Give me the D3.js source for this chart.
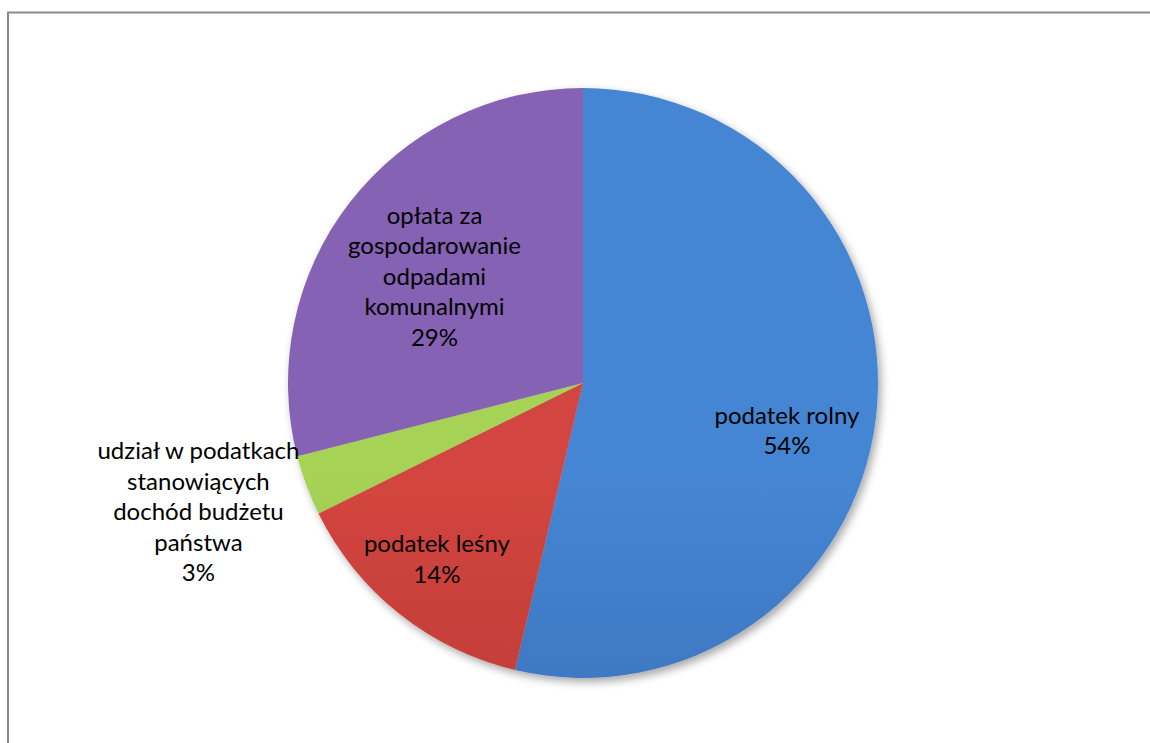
<!DOCTYPE html>
<html>
<head>
<meta charset="utf-8">
<script src="https://cdn.jsdelivr.net/npm/d3@7"></script>
<style>
html, body { margin: 0; padding: 0; background: #ffffff; }
svg { display: block; }
</style>
</head>
<body>
<svg id="chart" width="1150" height="743"></svg>
<script>
// ---- data ----
const categories = [
  "podatek rolny",
  "podatek leśny",
  "udział w podatkach stanowiących dochód budżetu państwa",
  "opłata za gospodarowanie odpadami komunalnymi"
];
const values = [53.7, 14.0, 3.3, 29.0];
const labelLines = [
  ["podatek rolny"],
  ["podatek leśny"],
  ["udział w podatkach", "stanowiących", "dochód budżetu", "państwa"],
  ["opłata za", "gospodarowanie", "odpadami", "komunalnymi"]
];
const topColors = ["#4586d4", "#d3453f", "#a6d255", "#8562b4"];
const bottomColors = ["#3461a2", "#a8332f", "#83a93b", "#5f4585"];

// ---- layout ----
const W = 1150, H = 743;
const cx = 583, cy = 383, R = 295;
// label placement (radius as fraction of R, angle shift in degrees)
const labelRadius = [0.71, 0.775, 1.375, 0.62];
const labelShift = [6.5, 1.2, 1.8, -2.1];
const fontSize = 24, lineH = 30.5;

const svg = d3.select("#chart");
const defs = svg.append("defs");

// frame
svg.append("line").attr("x1", 7).attr("x2", W).attr("y1", 12.5).attr("y2", 12.5)
  .attr("stroke", "#8a8a8a").attr("stroke-width", 2);
svg.append("line").attr("x1", 8).attr("x2", 8).attr("y1", 12).attr("y2", H)
  .attr("stroke", "#8a8a8a").attr("stroke-width", 2);

// shadow filter
const f = defs.append("filter").attr("id", "shadow")
  .attr("x", "-10%").attr("y", "-10%").attr("width", "125%").attr("height", "125%");
f.append("feDropShadow").attr("dx", 3).attr("dy", 4).attr("stdDeviation", 4)
  .attr("flood-color", "#000").attr("flood-opacity", 0.35);

// gradients
values.forEach((v, i) => {
  const g = defs.append("linearGradient").attr("id", "grad" + i)
    .attr("gradientUnits", "userSpaceOnUse")
    .attr("x1", 0).attr("x2", 0).attr("y1", cy - R).attr("y2", cy + R);
  g.append("stop").attr("offset", "0%").attr("stop-color", topColors[i]);
  g.append("stop").attr("offset", "100%").attr("stop-color", bottomColors[i]);
  const b = defs.append("linearGradient").attr("id", "bevel" + i)
    .attr("gradientUnits", "userSpaceOnUse")
    .attr("x1", 0).attr("x2", 0).attr("y1", cy - R).attr("y2", cy + R);
  b.append("stop").attr("offset", "0%").attr("stop-color", "#ffffff").attr("stop-opacity", 0.5);
  b.append("stop").attr("offset", "50%").attr("stop-color", "#ffffff").attr("stop-opacity", 0.2);
  b.append("stop").attr("offset", "100%").attr("stop-color", "#000000").attr("stop-opacity", 0.4);
});

const pie = d3.pie().sort(null).value(d => d)(values);
const arc = d3.arc().innerRadius(0).outerRadius(R);

const g = svg.append("g").attr("transform", `translate(${cx},${cy})`);
const pg = g.append("g").attr("filter", "url(#shadow)");

pie.forEach((d, i) => {
  defs.append("clipPath").attr("id", "clip" + i)
    .append("path").attr("d", arc(d)).attr("transform", `translate(${cx},${cy})`);
});

pg.selectAll("path.slice").data(pie).join("path")
  .attr("class", "slice")
  .attr("d", arc)
  .attr("fill", (d, i) => `url(#grad${i})`);

// bevel edges (clipped inside each slice)
const bev = svg.append("g");
pie.forEach((d, i) => {
  bev.append("path")
    .attr("d", arc(d))
    .attr("transform", `translate(${cx},${cy})`)
    .attr("fill", "none")
    .attr("stroke", `url(#bevel${i})`)
    .attr("stroke-width", 7)
    .attr("stroke-linejoin", "round")
    .attr("clip-path", `url(#clip${i})`);
});

// labels
const lg = g.append("g")
  .attr("font-family", "Lato, 'Open Sans', sans-serif")
  .attr("font-size", fontSize)
  .attr("fill", "#000")
  .attr("text-anchor", "middle");

pie.forEach((d, i) => {
  const a = (d.startAngle + d.endAngle) / 2 + labelShift[i] * Math.PI / 180;
  const r = labelRadius[i] * R;
  const x = r * Math.sin(a), y = -r * Math.cos(a);
  const lines = labelLines[i].concat([Math.round(values[i]) + "%"]);
  const n = lines.length;
  const t = lg.append("text").attr("transform", `translate(${x},${y})`);
  lines.forEach((ln, k) => {
    t.append("tspan").attr("x", 0)
      .attr("y", (k - (n - 1) / 2) * lineH + fontSize * 0.35)
      .text(ln);
  });
});
</script>
</body>
</html>
